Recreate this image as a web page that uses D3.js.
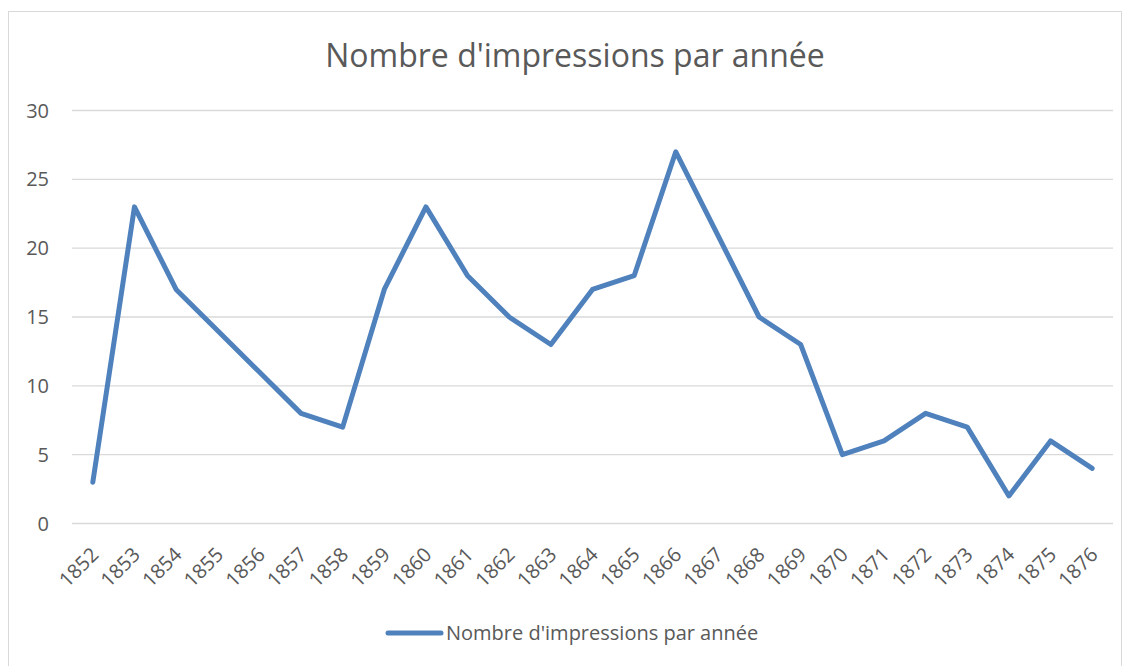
<!DOCTYPE html>
<html>
<head>
<meta charset="utf-8">
<script src="https://cdn.jsdelivr.net/npm/d3@7"></script>
<style>
  body { margin: 0; background: #fff; }
  svg { font-family: "Open Sans", "Noto Sans", sans-serif; }
</style>
</head>
<body>
<svg id="chart" width="1130" height="666"></svg>
<script>
// data
const years = ["1852","1853","1854","1855","1856","1857","1858","1859","1860","1861",
  "1862","1863","1864","1865","1866","1867","1868","1869","1870","1871",
  "1872","1873","1874","1875","1876"];
const impressions = [3, 23, 17, 14, 11, 8, 7, 17, 23, 18,
  15, 13, 17, 18, 27, 21, 15, 13, 5, 6,
  8, 7, 2, 6, 4];
const yTicks = [0, 5, 10, 15, 20, 25, 30];
const seriesName = "Nombre d'impressions par année";

const svg = d3.select("#chart");
const textColor = "#595959";
const lineColor = "#4f81bd";

// outer frame
svg.append("rect")
  .attr("x", 8.5).attr("y", 11.5)
  .attr("width", 1113).attr("height", 660)
  .attr("fill", "#fff")
  .attr("stroke", "#d9d9d9")
  .attr("stroke-width", 1);

const x = d3.scaleBand().domain(years).range([72, 1113]);
const y = d3.scaleLinear().domain([0, 30]).range([523.5, 110.5]);

// gridlines
svg.append("g")
  .selectAll("line")
  .data(yTicks)
  .join("line")
  .attr("x1", 72).attr("x2", 1113)
  .attr("y1", d => y(d)).attr("y2", d => y(d))
  .attr("stroke", "#d9d9d9")
  .attr("stroke-width", 1.3);

// y labels
svg.append("g")
  .selectAll("text")
  .data(yTicks)
  .join("text")
  .attr("x", 49)
  .attr("y", d => y(d))
  .attr("dy", "0.35em")
  .attr("text-anchor", "end")
  .attr("fill", textColor)
  .attr("font-size", 20)
  .text(d => d);

// x labels, rotated
svg.append("g")
  .selectAll("text")
  .data(years)
  .join("text")
  .attr("transform", d => {
    const cx = x(d) + x.bandwidth() / 2 + 2;
    return `translate(${cx},${551}) rotate(-45)`;
  })
  .attr("text-anchor", "end")
  .attr("dy", "0.35em")
  .attr("fill", textColor)
  .attr("font-size", 20)
  .text(d => d);

// the series
const line = d3.line()
  .x((d, i) => x(years[i]) + x.bandwidth() / 2)
  .y(d => y(d));

svg.append("path")
  .datum(impressions)
  .attr("d", line)
  .attr("fill", "none")
  .attr("stroke", lineColor)
  .attr("stroke-width", 5)
  .attr("stroke-linejoin", "round")
  .attr("stroke-linecap", "round");

// title
svg.append("text")
  .attr("x", 575).attr("y", 67)
  .attr("text-anchor", "middle")
  .attr("fill", textColor)
  .attr("font-size", 32)
  .text(seriesName);

// legend
svg.append("line")
  .attr("x1", 388).attr("x2", 441)
  .attr("y1", 633).attr("y2", 633)
  .attr("stroke", lineColor)
  .attr("stroke-width", 5)
  .attr("stroke-linecap", "round");

svg.append("text")
  .attr("x", 446).attr("y", 633)
  .attr("dy", "0.35em")
  .attr("fill", textColor)
  .attr("font-size", 20)
  .text(seriesName);
</script>
</body>
</html>
